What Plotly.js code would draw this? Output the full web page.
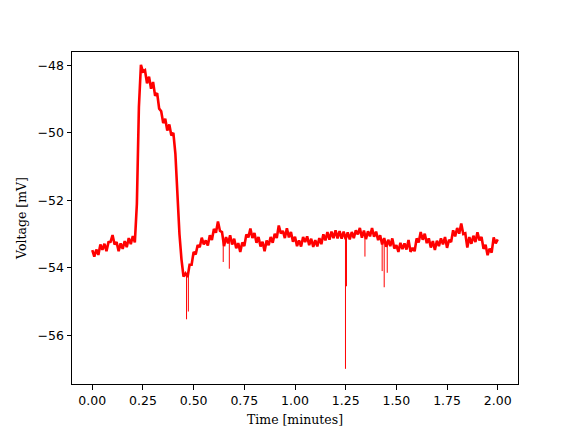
<!DOCTYPE html>
<html>
<head>
<meta charset="utf-8">
<script src="https://cdn.plot.ly/plotly-3.0.1.min.js"></script>
<style>html,body{margin:0;padding:0;background:#fff;}#chart{width:576px;height:432px;}</style>
</head>
<body>
<div id="chart"></div>
<script>
// Sampling step of the recorded trace (minutes)
const timeStep = 0.01;
// Voltage samples [mV], one per time step from 0.00 to 2.00 min
const voltage = [
-53.48,-53.67,-53.46,-53.62,-53.31,-53.47,-53.29,-53.51,-53.24,-53.23,
-53.03,-53.31,-53.24,-53.51,-53.28,-53.44,-53.21,-53.39,-53.12,-53.30,
-53.06,-53.25,-52.11,-49.23,-47.98,-48.18,-48.14,-48.53,-48.33,-48.69,
-48.49,-48.90,-48.82,-49.28,-49.36,-49.71,-49.58,-49.93,-49.75,-50.08,
-50.00,-50.62,-51.81,-53.00,-53.75,-54.26,-54.17,-54.28,-53.91,-53.91,
-53.53,-53.61,-53.33,-53.39,-53.11,-53.31,-53.19,-53.34,-53.04,-53.18,
-52.85,-52.96,-52.63,-52.91,-52.94,-53.36,-53.09,-53.28,-53.04,-53.31,
-53.14,-53.42,-53.27,-53.53,-53.25,-53.36,-53.01,-53.10,-52.84,-53.12,
-52.97,-53.26,-53.09,-53.37,-53.23,-53.51,-53.19,-53.33,-53.09,-53.26,
-52.99,-53.12,-52.75,-52.98,-52.91,-53.12,-52.83,-53.10,-52.94,-53.23,
-53.08,-53.36,-53.19,-53.37,-53.09,-53.24,-53.07,-53.33,-53.14,-53.38,
-53.18,-53.37,-53.12,-53.30,-53.01,-53.19,-52.94,-53.17,-52.93,-53.12,
-52.89,-53.13,-52.91,-53.14,-52.93,-53.15,-52.95,-53.16,-52.94,-53.12,
-52.89,-53.01,-52.82,-53.11,-52.90,-53.15,-52.92,-53.07,-52.82,-53.08,
-52.93,-53.18,-53.04,-53.31,-53.12,-53.38,-53.17,-53.36,-53.13,-53.43,
-53.33,-53.53,-53.26,-53.45,-53.28,-53.46,-53.18,-53.53,-53.41,-53.51,
-53.13,-53.25,-52.94,-53.17,-52.99,-53.27,-53.13,-53.40,-53.21,-53.47,
-53.20,-53.36,-53.13,-53.31,-53.09,-53.41,-53.17,-53.24,-52.89,-53.07,
-52.82,-52.99,-52.69,-53.00,-52.98,-53.40,-53.09,-53.29,-53.05,-53.24,
-52.95,-53.19,-53.09,-53.44,-53.32,-53.63,-53.43,-53.55,-53.10,-53.28,
-53.16
];
// Brief downward transients: time [min], level before, lowest level [mV]
const spikeTime = [0.465, 0.474, 0.646, 0.676, 1.249, 1.254, 1.345, 1.430, 1.440, 1.455];
const spikeBase = [-54.20, -54.15, -53.20, -53.20, -53.05, -53.05, -53.00, -53.20, -53.25, -53.27];
const spikeMin  = [-55.53, -55.30, -53.83, -54.03, -57.00, -54.55, -53.67, -54.10, -54.58, -54.15];

const xTicks = [0, 0.25, 0.5, 0.75, 1.0, 1.25, 1.5, 1.75, 2.0];
const yTicks = [-56, -54, -52, -50, -48];

const times = voltage.map((v, i) => +(i * timeStep).toFixed(3));

const trace = {
  x: times, y: voltage,
  type: 'scatter', mode: 'lines',
  line: {color: '#ff0000', width: 2.6, simplify: false},
  hoverinfo: 'skip'
};

const sx = [], sy = [];
spikeTime.forEach((t, i) => { sx.push(t, t, null); sy.push(spikeBase[i], spikeMin[i], null); });
const spikes = {
  x: sx, y: sy,
  type: 'scatter', mode: 'lines', connectgaps: false,
  line: {color: '#ff0000', width: 1, simplify: false},
  hoverinfo: 'skip'
};

const tickFont = {family: 'DejaVu Sans', size: 12.5, color: '#000'};
const titleFont = {family: 'DejaVu Serif', size: 12.5, color: '#000'};

const layout = {
  width: 576, height: 432,
  margin: {l: 72, r: 58, t: 52, b: 48, pad: 0},
  paper_bgcolor: '#fff', plot_bgcolor: '#fff',
  showlegend: false,
  xaxis: {
    range: [-0.1, 2.1], tickvals: xTicks, ticktext: xTicks.map(v => v.toFixed(2)),
    ticks: 'outside', ticklen: 4.5, tickwidth: 1, tickcolor: '#000',
    showline: true, mirror: true, linecolor: '#000', linewidth: 1,
    showgrid: false, zeroline: false, tickfont: tickFont,
    title: {text: 'Time [minutes]', font: titleFont, standoff: 8},
    automargin: false
  },
  yaxis: {
    range: [-57.45, -47.6], tickvals: yTicks, ticktext: yTicks.map(v => '\u2212' + Math.abs(v)),
    ticks: 'outside', ticklen: 4.5, tickwidth: 1, tickcolor: '#000',
    showline: true, mirror: true, linecolor: '#000', linewidth: 1,
    showgrid: false, zeroline: false, tickfont: tickFont,
    title: {text: 'Voltage [mV]', font: titleFont, standoff: 8},
    automargin: false
  }
};

Plotly.newPlot('chart', [trace, spikes], layout, {displayModeBar: false, staticPlot: true});
</script>
</body>
</html>
